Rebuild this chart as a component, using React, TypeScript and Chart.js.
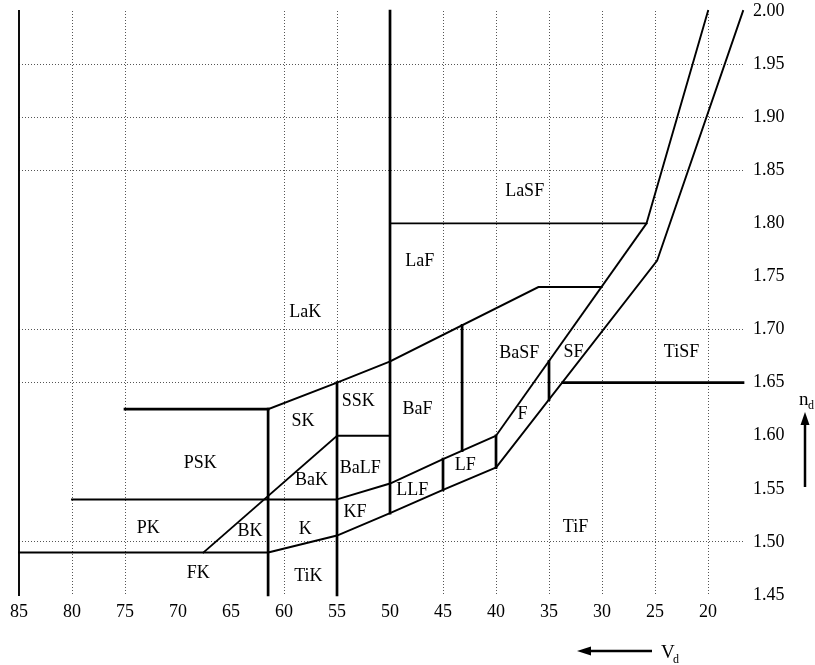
import React, { useEffect, useRef } from "react";
import { Chart, registerables } from "chart.js";

Chart.register(...registerables);

// Axis ticks (Abbe number V_d on x, refractive index n_d on y)
const xTicks = [85, 80, 75, 70, 65, 60, 55, 50, 45, 40, 35, 30, 25, 20];
const yTicks = [1.45, 1.5, 1.55, 1.6, 1.65, 1.7, 1.75, 1.8, 1.85, 1.9, 1.95, 2.0];
const xGridValues = [80, 75, 60, 55, 45, 40, 35, 30, 25, 20];
const yGridValues = [1.5, 1.65, 1.7, 1.85, 1.9, 1.95];
const V_MIN = 16.7;
const V_MAX = 85;
const N_MIN = 1.45;
const N_MAX = 2.0;

type Pt = [number, number];

// Region boundaries, [V_d, n_d]
const leftEdge: Pt[] = [[85, 1.45], [85, 2.0]];
const line50: Pt[] = [[50, 2.0], [50, 1.527]];
const laSFBottom: Pt[] = [[50, 1.8], [25.8, 1.8], [20.0, 2.0]];
const sfUpper: Pt[] = [[40, 1.6], [25.8, 1.8]];
const tiFUpper: Pt[] = [[40, 1.57], [24.8, 1.765], [16.7, 2.0]];
const tiSFLine: Pt[] = [[33.7, 1.65], [16.7, 1.65]];
const sfDivider: Pt[] = [[35, 1.67], [35, 1.634]];
const baSFTop: Pt[] = [[50, 1.67], [36, 1.74], [30.06, 1.74]];
const pskTop: Pt[] = [[75, 1.625], [61.5, 1.625]];
const lakBottom: Pt[] = [[61.5, 1.625], [55, 1.65], [50, 1.67]];
const line61: Pt[] = [[61.5, 1.625], [61.5, 1.45]];
const line55: Pt[] = [[55, 1.65], [55, 1.45]];
const sskBottom: Pt[] = [[55, 1.6], [50, 1.6]];
const bakDiagonal: Pt[] = [[55, 1.6], [67.6, 1.49]];
const pskBottom: Pt[] = [[80, 1.54], [55, 1.54]];
const lfTop: Pt[] = [[55, 1.54], [50, 1.555], [45, 1.578], [40, 1.6]];
const line43: Pt[] = [[43.2, 1.704], [43.2, 1.586]];
const line45: Pt[] = [[45, 1.578], [45, 1.549]];
const line40: Pt[] = [[40, 1.6], [40, 1.57]];
const lowerLine: Pt[] = [[61.5, 1.49], [55, 1.506], [50, 1.527], [45, 1.549], [40, 1.57]];
const fkTop: Pt[] = [[85, 1.49], [61.5, 1.49]];

const thickLines: Pt[][] = [line50, line61, line55, pskTop, tiSFLine, line43, line45, line40, sfDivider];
const thinLines: Pt[][] = [leftEdge, laSFBottom, sfUpper, tiFUpper, baSFTop, lakBottom, sskBottom, bakDiagonal, pskBottom, lfTop, lowerLine, fkTop];

// Region labels
const regionNames = ["LaSF", "LaF", "LaK", "BaSF", "SF", "TiSF", "BaF", "F", "LF", "LLF", "TiF", "SSK", "SK", "PSK", "BaK", "BaLF", "KF", "PK", "BK", "K", "FK", "TiK"];
const regionV = [37.3, 47.2, 58.0, 37.8, 32.7, 22.5, 47.4, 37.5, 42.9, 47.9, 32.5, 53.0, 58.2, 67.9, 57.4, 52.8, 53.3, 72.8, 63.2, 58.0, 68.1, 57.7];
const regionN = [1.83, 1.764, 1.716, 1.678, 1.679, 1.679, 1.625, 1.62, 1.572, 1.549, 1.514, 1.632, 1.614, 1.574, 1.558, 1.569, 1.528, 1.513, 1.51, 1.512, 1.47, 1.468];

const FONT = '"Liberation Serif", "Times New Roman", serif';

const labelPlugin = {
  id: "regionLabels",
  afterDatasetsDraw(chart: any) {
    const { ctx, scales, chartArea } = chart;
    const x = scales.x;
    const y = scales.y;
    ctx.save();
    ctx.fillStyle = "#000";
    ctx.font = `18px ${FONT}`;
    ctx.textAlign = "center";
    ctx.textBaseline = "middle";
    regionNames.forEach((t, i) => {
      ctx.fillText(t, x.getPixelForValue(regionV[i]), y.getPixelForValue(regionN[i]));
    });

    // n_d with upward arrow (right side)
    const ax = chartArea.right + 62;
    ctx.strokeStyle = "#000";
    ctx.lineWidth = 2.5;
    ctx.beginPath();
    ctx.moveTo(ax, 487);
    ctx.lineTo(ax, 422);
    ctx.stroke();
    ctx.beginPath();
    ctx.moveTo(ax, 412);
    ctx.lineTo(ax - 4.5, 425);
    ctx.lineTo(ax + 4.5, 425);
    ctx.closePath();
    ctx.fill();
    ctx.textAlign = "left";
    ctx.textBaseline = "alphabetic";
    ctx.font = `19px ${FONT}`;
    ctx.fillText("n", ax - 6, 405);
    ctx.font = `12px ${FONT}`;
    ctx.fillText("d", ax + 3, 409);

    // V_d with left arrow (bottom)
    const ay = 651;
    ctx.beginPath();
    ctx.moveTo(652, ay);
    ctx.lineTo(588, ay);
    ctx.stroke();
    ctx.beginPath();
    ctx.moveTo(577, ay);
    ctx.lineTo(591, ay - 4.5);
    ctx.lineTo(591, ay + 4.5);
    ctx.closePath();
    ctx.fill();
    ctx.font = `19px ${FONT}`;
    ctx.fillText("V", 661, 658);
    ctx.font = `12px ${FONT}`;
    ctx.fillText("d", 673, 663);
    ctx.restore();
  },
};

export default function App() {
  const canvasRef = useRef<HTMLCanvasElement | null>(null);

  useEffect(() => {
    if (!canvasRef.current) return;
    const mk = (pts: Pt[], w: number) => ({
      data: pts.map(([vx, ny]) => ({ x: vx, y: ny })),
      showLine: true,
      borderColor: "#000",
      backgroundColor: "#000",
      borderWidth: w,
      pointRadius: 0,
      pointHoverRadius: 0,
      fill: false,
      tension: 0,
      clip: false as const,
      borderJoinStyle: "miter" as const,
      borderCapStyle: "square" as const,
    });
    const datasets = [
      ...thinLines.map((p) => mk(p, 1.9)),
      ...thickLines.map((p) => mk(p, 2.7)),
    ];
    const chart = new Chart(canvasRef.current, {
      type: "scatter",
      data: { datasets },
      plugins: [labelPlugin],
      options: {
        animation: false,
        responsive: false,
        events: [],
        layout: { padding: { left: 19, top: 11, right: 0, bottom: 0 } },
        plugins: { legend: { display: false }, tooltip: { enabled: false } },
        scales: {
          x: {
            type: "linear",
            position: "bottom",
            reverse: true,
            min: V_MIN,
            max: V_MAX,
            afterBuildTicks: (scale: any) => {
              scale.ticks = xTicks.map((v) => ({ value: v }));
            },
            afterFit: (scale: any) => {
              scale.height = 70;
              scale.paddingLeft = 0;
              scale.paddingRight = 0;
            },
            ticks: {
              autoSkip: false,
              maxRotation: 0,
              padding: 6,
              color: "#000",
              font: { family: FONT, size: 18 },
              callback: (v: any) => String(v),
            },
            grid: {
              drawTicks: false,
              lineWidth: 1,
              color: (c: any) =>
                c.tick && xGridValues.includes(c.tick.value) ? "#555" : "rgba(0,0,0,0)",
            },
            border: { display: false, dash: [1, 2] },
          },
          y: {
            type: "linear",
            position: "right",
            min: N_MIN,
            max: N_MAX,
            afterBuildTicks: (scale: any) => {
              scale.ticks = yTicks.map((v) => ({ value: v }));
            },
            afterFit: (scale: any) => {
              scale.width = 72;
              scale.paddingTop = 0;
              scale.paddingBottom = 0;
            },
            ticks: {
              autoSkip: false,
              padding: 10,
              color: "#000",
              font: { family: FONT, size: 18 },
              callback: (v: any) => Number(v).toFixed(2),
            },
            grid: {
              drawTicks: false,
              lineWidth: 1,
              color: (c: any) =>
                c.tick && yGridValues.includes(c.tick.value) ? "#555" : "rgba(0,0,0,0)",
            },
            border: { display: false, dash: [1, 2] },
          },
        },
      },
    });
    return () => chart.destroy();
  }, []);

  return (
    <div style={{ position: "absolute", left: 0, top: 0, width: 815, height: 665, background: "#fff" }}>
      <canvas ref={canvasRef} width={815} height={665} />
    </div>
  );
}
